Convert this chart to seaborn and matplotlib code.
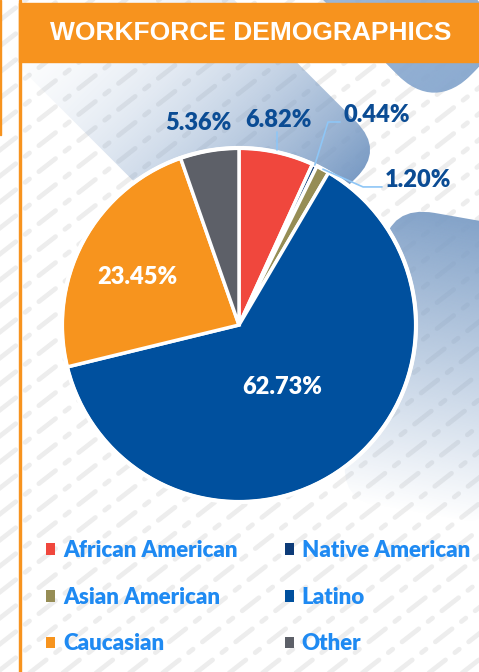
import numpy as np
import matplotlib

matplotlib.use("Agg")
import matplotlib.pyplot as plt
import seaborn as sns
from matplotlib.patches import FancyBboxPatch, Rectangle
from matplotlib.transforms import Affine2D

groups = ["African American", "Native American", "Asian American", "Latino", "Caucasian", "Other"]
shares = [6.82, 0.44, 1.20, 62.73, 23.45, 5.36]
colors = ["#F0473D", "#0D3B78", "#968D55", "#00509E", "#F7941E", "#5D6068"]
title = "WORKFORCE DEMOGRAPHICS"

ORANGE = "#F7931E"
LABEL_BLUE = "#0B4C94"
LEGEND_BLUE = "#1F8AF2"


def gradient_band(bg, x0, y0, length, width, angle, color, a0, a1, radius=None, gamma=1.0):
    """rounded band with alpha fading along its length"""
    radius = width / 2 if radius is None else radius
    tr = Affine2D().rotate_deg(angle).translate(x0, y0) + bg.transData
    patch = FancyBboxPatch((0, -width / 2), length, width,
                           boxstyle=f"round,pad=0,rounding_size={radius}",
                           transform=tr, facecolor="none", edgecolor="none")
    bg.add_patch(patch)
    t = np.linspace(0, 1, 256)
    rgba = np.tile(matplotlib.colors.to_rgba(color), (256, 1))
    rgba[:, 3] = a0 + (a1 - a0) * t ** gamma
    img = np.repeat(rgba[None, :, :], 2, axis=0)
    im = bg.imshow(img, extent=(0, length, -width / 2, width / 2), aspect="auto",
                   transform=tr, interpolation="bilinear", zorder=1)
    im.set_clip_path(patch)


sns.set_theme(style="white")
plt.rcParams["font.family"] = ["Lato", "DejaVu Sans"]

fig = plt.figure(figsize=(4.79, 6.72), dpi=100)
fig.patch.set_facecolor("white")

# background layer in pixel coordinates (y down)
bg = fig.add_axes([0, 0, 1, 1])
bg.set_xlim(0, 479)
bg.set_ylim(672, 0)
bg.axis("off")

# diagonal dashed stripes
slope = np.tan(np.radians(38))
xs = np.array([-50, 530])
for c in np.arange(-500, 1200, 26):
    bg.plot(xs, c - slope * xs, color="#EDEDED", lw=3.4,
            dashes=(4.5, 2.5, 1.2, 2.5), dash_capstyle="round", zorder=0)

# soft blue shapes behind the chart
gradient_band(bg, 59, -34, 360, 200, 45, "#7B9CC5", 0.0, 1.0, radius=40, gamma=1.8)
gradient_band(bg, 300, -100, 245, 110, 45, "#86A7CE", 0.75, 0.95)
gradient_band(bg, 469, 219, 300, 160, 100, "#7D9EC6", 0.95, 0.0, radius=45)

# frame: orange left rule and title banner
bg.add_patch(Rectangle((19, 0), 2.5, 672, color=ORANGE, zorder=3))
bg.add_patch(Rectangle((0, 0), 1.5, 135, color=ORANGE, zorder=3))
bg.add_patch(Rectangle((19, 3), 470, 59, color=ORANGE, zorder=3))
bg.text(251, 33, title, color="white", fontsize=19, fontweight="bold",
        family="Liberation Sans", ha="center", va="center", zorder=4)

# pie
ax = fig.add_axes([(239 - 177) / 479, (672 - 325 - 177) / 672, 354 / 479, 354 / 672])
wedges, _ = ax.pie(shares, colors=colors, startangle=90, counterclock=False,
                   wedgeprops=dict(edgecolor="white", linewidth=2.5))
ax.add_patch(plt.Circle((0, 0), 1.0, fill=False, edgecolor="white", lw=3, zorder=3, clip_on=False))
ax.set_xlim(-1, 1)
ax.set_ylim(-1, 1)
ax.set_aspect("equal")
ax.axis("off")
ax.patch.set_alpha(0)

mid_angles = [np.radians((w.theta1 + w.theta2) / 2) for w in wedges]
label_pos = {
    0: (0.220, 1.158),
    1: (0.780, 1.186),
    2: (1.011, 0.819),
    3: (0.243, -0.350),
    4: (-0.576, 0.271),
    5: (-0.232, 1.141),
}
inside = {3, 4}
for i, v in enumerate(shares):
    x, y = label_pos[i]
    ax.text(x, y, f"{v:.2f}%", ha="center", va="center", fontsize=17, fontweight="heavy",
            color="white" if i in inside else LABEL_BLUE, zorder=5, clip_on=False)

# leader lines
lc = "#8EC6F6"
ax.plot([0.215, 0.215], [0.99, 1.09], color=lc, lw=1.2, clip_on=False, zorder=4)
a = mid_angles[1]
ax.plot([np.cos(a), 0.503, 0.571], [np.sin(a), 1.147, 1.147], color=lc, lw=1.2, clip_on=False, zorder=4)
a = mid_angles[2]
ax.plot([np.cos(a), 0.701, 0.808], [np.sin(a), 0.780, 0.780], color=lc, lw=1.2, clip_on=False, zorder=4)

# legend, row-major order like the reference
order = [0, 2, 4, 1, 3, 5]
leg = fig.legend([wedges[i] for i in order], [groups[i] for i in order],
                 ncol=2, loc="upper left", bbox_to_anchor=(0.054, 0.226),
                 frameon=False, fontsize=16, handlelength=0.42, handleheight=0.42,
                 handletextpad=0.35, columnspacing=2.12, labelspacing=1.15)
for t in leg.get_texts():
    t.set_color(LEGEND_BLUE)
    t.set_fontweight("heavy")
for h in leg.legend_handles:
    h.set_edgecolor("none")

fig.savefig("out.png", dpi=100)
